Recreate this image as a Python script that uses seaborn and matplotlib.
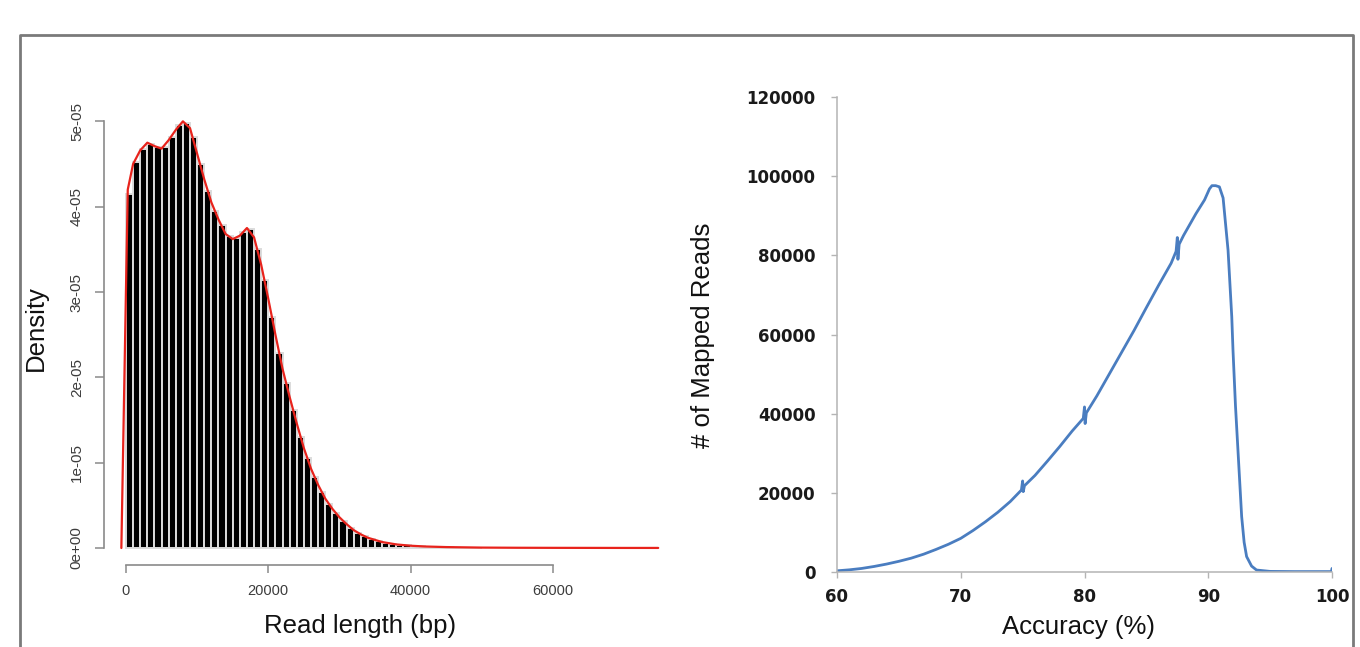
import matplotlib

matplotlib.use("Agg")

import matplotlib.pyplot as plt
from matplotlib.lines import Line2D
import seaborn as sns

# ---- left panel: read-length histogram (density, 1 kb bins) ----
BIN_WIDTH = 1000
bin_starts = list(range(0, 50000, BIN_WIDTH))
bar_density = [
    4.15, 4.52, 4.68, 4.74, 4.70, 4.70, 4.82, 4.96, 4.98, 4.82,
    4.50, 4.18, 3.95, 3.78, 3.66, 3.63, 3.70, 3.74, 3.50, 3.14,
    2.71, 2.28, 1.93, 1.62, 1.30, 1.05, 0.83, 0.66, 0.52, 0.41,
    0.32, 0.24, 0.18, 0.14, 0.105, 0.08, 0.062, 0.048, 0.038, 0.030,
    0.024, 0.019, 0.015, 0.012, 0.010, 0.008, 0.006, 0.005, 0.004, 0.003,
]  # x 1e-05

kde_x = [-650, 250, 1000, 2000, 3000, 4000, 5000, 6000, 7000, 8000, 9000,
         10000, 11000, 12000, 13000, 14000, 15000, 16000, 17000, 18000, 19000,
         20000, 21000, 22000, 23000, 24000, 25000, 26000, 27000, 28000, 29000,
         30000, 31000, 32000, 33000, 34000, 36000, 38000, 40000, 42000, 45000,
         50000, 55000, 60000, 65000, 70000, 74800]
kde_y = [0, 4.2, 4.5, 4.66, 4.75, 4.71, 4.68, 4.78, 4.9, 5.0, 4.92,
         4.62, 4.32, 4.05, 3.85, 3.68, 3.62, 3.66, 3.75, 3.64, 3.32,
         2.92, 2.5, 2.1, 1.77, 1.46, 1.17, 0.93, 0.74, 0.58, 0.46,
         0.36, 0.28, 0.21, 0.16, 0.12, 0.07, 0.042, 0.027, 0.018, 0.011,
         0.005, 0.003, 0.002, 0.0015, 0.001, 0.001]  # x 1e-05

density_ticks = [0, 1e-05, 2e-05, 3e-05, 4e-05, 5e-05]
density_tick_labels = ["0e+00", "1e-05", "2e-05", "3e-05", "4e-05", "5e-05"]
length_ticks = [0, 20000, 40000, 60000]

# ---- right panel: mapped reads vs accuracy ----
accuracy = [60, 61, 62, 63, 64, 65, 66, 67, 68, 69, 70, 71, 72, 73, 74,
            74.9, 75.0, 75.05, 75.15, 76, 77, 78, 79,
            79.9, 80.0, 80.05, 80.15, 81, 82, 83, 84, 85, 86, 87,
            87.4, 87.5, 87.55, 87.65, 88, 89, 89.7, 90.1, 90.3, 90.6, 90.9,
            91.2, 91.6, 91.9, 92.0, 92.2, 92.4, 92.7, 92.9, 93.1, 93.5, 93.9,
            95, 97, 99.95, 100]
mapped_reads = [300, 550, 900, 1400, 2000, 2700, 3500, 4500, 5700, 7000, 8500,
                10500, 12700, 15100, 17800,
                20700, 23000, 20300, 21800, 24400, 28000, 31700, 35600,
                38800, 41700, 37500, 40200, 44500, 50000, 55500, 61000, 66800, 72500, 78000,
                81000, 84500, 79000, 82800, 85000, 90500, 94000, 96800, 97600, 97600, 97300,
                94500, 81300, 64500, 56000, 42000, 30800, 14000, 7500, 3900, 1500, 500,
                150, 100, 100, 900]

reads_ticks = [0, 20000, 40000, 60000, 80000, 100000, 120000]
accuracy_ticks = [60, 70, 80, 90, 100]

sns.set_theme(style="white")
plt.rcParams["font.family"] = ["Liberation Sans", "DejaVu Sans"]

W, H = 1360, 647
fig = plt.figure(figsize=(W / 100, H / 100), dpi=100)

# left panel
ax1 = fig.add_axes([104 / W, (H - 565) / H, (676 - 104) / W, (565 - 100) / H])
sns.histplot(
    x=[b + BIN_WIDTH / 2 for b in bin_starts],
    weights=[d * 1e-05 for d in bar_density],
    bins=bin_starts + [bin_starts[-1] + BIN_WIDTH],
    stat="count",
    color="black",
    edgecolor="#dcdcdc",
    linewidth=1.4,
    alpha=1,
    ax=ax1,
)
sns.lineplot(
    x=kde_x,
    y=[v * 1e-05 for v in kde_y],
    color="#e8231c",
    linewidth=1.6,
    sort=False,
    estimator=None,
    ax=ax1,
)
ax1.set_xlim(-3090, 77300)
ax1.set_ylim(-0.199e-05, 5.25e-05)
for side in ["top", "right"]:
    ax1.spines[side].set_visible(False)
ax1.spines["left"].set_bounds(0, 5e-05)
ax1.spines["bottom"].set_bounds(0, 60000)
for side in ["left", "bottom"]:
    ax1.spines[side].set_color("#8a8a8a")
    ax1.spines[side].set_linewidth(1.2)
ax1.set_yticks(density_ticks)
ax1.set_yticklabels(density_tick_labels, rotation=90, va="center")
ax1.set_xticks(length_ticks)
ax1.set_xticklabels([str(t) for t in length_ticks])
ax1.tick_params(axis="y", direction="out", length=6.5, width=1.1, color="#8a8a8a",
                labelcolor="#3c3c3c", labelsize=11, pad=8, left=True)
ax1.tick_params(axis="x", direction="out", length=5.8, width=1.1, color="#8a8a8a",
                labelcolor="#3c3c3c", labelsize=10.5, pad=8, bottom=True)
ax1.set_xlabel("Read length (bp)", fontsize=18.5, color="#111111")
ax1.set_ylabel("Density", fontsize=18.5, color="#111111")
ax1.xaxis.label.set_va("center")
ax1.yaxis.label.set_va("center")
ax1.xaxis.set_label_coords((360 - 104) / 572, (565 - 626) / 465)
ax1.yaxis.set_label_coords((36 - 104) / 572, (565 - 328) / 465)

# right panel
ax2 = fig.add_axes([837 / W, (H - 572) / H, (1332 - 837) / W, (572 - 97) / H])
sns.lineplot(
    x=accuracy,
    y=mapped_reads,
    color="#4a7dc0",
    linewidth=2.0,
    sort=False,
    estimator=None,
    ax=ax2,
)
ax2.set_xlim(60, 100)
ax2.set_ylim(0, 120000)
for side in ["top", "right"]:
    ax2.spines[side].set_visible(False)
for side in ["left", "bottom"]:
    ax2.spines[side].set_color("#b4b4b4")
    ax2.spines[side].set_linewidth(1.1)
ax2.set_yticks(reads_ticks)
ax2.set_yticklabels([str(t) for t in reads_ticks])
ax2.set_xticks(accuracy_ticks)
ax2.set_xticklabels([str(t) for t in accuracy_ticks])
ax2.tick_params(axis="y", direction="out", length=4.5, width=1, color="#b4b4b4",
                labelsize=12, pad=11, left=True)
ax2.tick_params(axis="x", direction="out", length=4.3, width=1, color="#b4b4b4",
                labelsize=12, pad=7, bottom=True)
for lab in ax2.get_xticklabels() + ax2.get_yticklabels():
    lab.set_fontfamily("DejaVu Sans")
    lab.set_fontweight("bold")
    lab.set_color("#1a1a1a")
ax2.set_xlabel("Accuracy (%)", fontsize=18.5, color="#111111")
ax2.set_ylabel("# of Mapped Reads", fontsize=18.5, color="#111111")
ax2.xaxis.label.set_va("center")
ax2.yaxis.label.set_va("center")
ax2.xaxis.set_label_coords((1078 - 837) / 495, (572 - 627) / 475)
ax2.yaxis.set_label_coords((703 - 837) / 495, (572 - 335) / 475)

# outer frame (left, top, right edges)
frame_x = [20 / W, 20 / W, 1353 / W, 1353 / W]
frame_y = [0, 1 - 35 / H, 1 - 35 / H, 0]
fig.add_artist(Line2D(frame_x, frame_y, transform=fig.transFigure,
                      color="#7a7a7a", linewidth=2))

fig.savefig("out.png", dpi=100)
plt.close(fig)
